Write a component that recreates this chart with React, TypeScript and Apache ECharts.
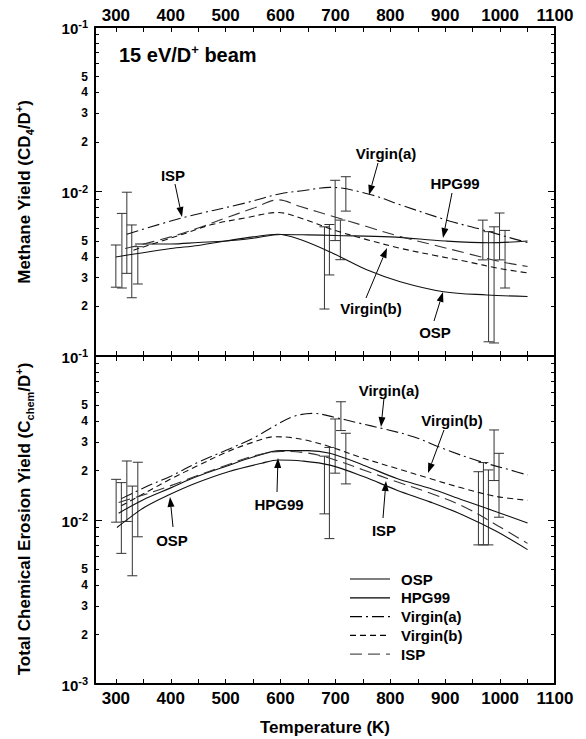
import React, { useEffect, useRef } from 'react';
import * as echarts from 'echarts';

const FONT = "'Liberation Sans', Arial, Helvetica, sans-serif";

// Axis ticks / labels
const xTickValues = [300, 350, 400, 450, 500, 550, 600, 650, 700, 750, 800, 850, 900, 950, 1000, 1050, 1100];
const xLabelValues = [300, 400, 500, 600, 700, 800, 900, 1000, 1100];
const decadeBases = [0.001, 0.01];
const minorMantissas = [2, 3, 4, 5, 6, 7, 8, 9];
const minorLabelMantissas = [2, 3, 4, 5];

// ---- Top panel: methane yield (CD4/D+) ----
const topOspT = [300, 340, 400, 450, 500, 550, 595, 636, 696, 757, 818, 897, 976, 1050];
const topOsp = [0.0040, 0.0042, 0.0045, 0.0047, 0.0050, 0.0053, 0.0055, 0.0051, 0.0042, 0.00334, 0.00283, 0.00246, 0.00235, 0.0023];

const topHpgT = [335, 400, 450, 500, 550, 600, 650, 700, 800, 900, 980, 1050];
const topHpg = [0.0048, 0.0048, 0.0049, 0.0050, 0.0052, 0.00548, 0.00545, 0.0054, 0.0053, 0.0050, 0.00488, 0.0050];

const topVirginAT = [320, 420, 535, 600, 640, 690, 763, 818, 909, 964, 1030, 1050];
const topVirginA = [0.0055, 0.0069, 0.0085, 0.0097, 0.0101, 0.0106, 0.0096, 0.0083, 0.0066, 0.0059, 0.0051, 0.0049];

const topIspT = [317, 400, 450, 500, 550, 596, 636, 696, 757, 818, 879, 939, 1000, 1050];
const topIsp = [0.0045, 0.0053, 0.0060, 0.0069, 0.0079, 0.0089, 0.0081, 0.00705, 0.00612, 0.00532, 0.00473, 0.00421, 0.00375, 0.0035];

const topVirginBT = [332, 429, 475, 535, 596, 636, 696, 757, 818, 879, 939, 1000, 1050];
const topVirginB = [0.0044, 0.0056, 0.0063, 0.0069, 0.00745, 0.0069, 0.00585, 0.0051, 0.00452, 0.0041, 0.00375, 0.0034, 0.0032];

const errTopT = [300, 311, 320, 329, 340, 680, 689, 699.5, 709, 719, 968.5, 979, 989, 999, 1009];
const errTopLo = [0.00262, 0.00259, 0.00318, 0.00226, 0.00274, 0.00193, 0.00311, 0.00503, 0.00385, 0.0076, 0.00384, 0.00122, 0.0012, 0.00384, 0.00259];
const errTopHi = [0.00473, 0.00736, 0.0099, 0.00626, 0.00462, 0.0061, 0.0063, 0.0117, 0.0067, 0.0123, 0.0067, 0.0057, 0.0061, 0.0074, 0.0058];

// ---- Bottom panel: total chemical erosion yield ----
const botOspT = [302, 323, 353, 396, 444, 505, 566, 596, 639, 690, 751, 812, 872, 933, 994, 1050];
const botOsp = [0.0090, 0.0102, 0.0120, 0.0142, 0.0167, 0.0197, 0.0222, 0.0232, 0.0229, 0.0216, 0.0184, 0.0152, 0.0129, 0.0107, 0.0085, 0.0066];

const botHpgT = [305, 350, 400, 444, 500, 550, 600, 650, 690, 751, 812, 872, 933, 994, 1050];
const botHpg = [0.0110, 0.0133, 0.0157, 0.0182, 0.0212, 0.0242, 0.0265, 0.0265, 0.0255, 0.0216, 0.0179, 0.0156, 0.0132, 0.0112, 0.0096];

const botIspT = [305, 350, 400, 444, 500, 550, 600, 650, 690, 751, 812, 872, 933, 994, 1050];
const botIsp = [0.0128, 0.0142, 0.0162, 0.0184, 0.0215, 0.0245, 0.0262, 0.0256, 0.0238, 0.0202, 0.0171, 0.0146, 0.0121, 0.0093, 0.0072];

const botVirginAT = [310, 356, 400, 450, 502, 550, 587, 623, 660, 696, 740, 790, 842, 903, 964, 1018, 1050];
const botVirginA = [0.0135, 0.0160, 0.0185, 0.0225, 0.0267, 0.0315, 0.0371, 0.0427, 0.0447, 0.0425, 0.0392, 0.0358, 0.0322, 0.0267, 0.0227, 0.0202, 0.0188];

const botVirginBT = [310, 356, 400, 450, 500, 550, 590, 620, 650, 690, 751, 812, 872, 933, 994, 1050];
const botVirginB = [0.0122, 0.0148, 0.0178, 0.0215, 0.0258, 0.0298, 0.0322, 0.0318, 0.0305, 0.0280, 0.0238, 0.0206, 0.0179, 0.0156, 0.0139, 0.0132];

const errBotT = [300.5, 310, 320, 330, 340, 680, 689, 699.5, 710, 719, 960.5, 969.6, 978.7, 989, 998];
const errBotLo = [0.0097, 0.00626, 0.0098, 0.00457, 0.0079, 0.0109, 0.0077, 0.0193, 0.0351, 0.0166, 0.00705, 0.00705, 0.00705, 0.0174, 0.0104];
const errBotHi = [0.0177, 0.0169, 0.0229, 0.0161, 0.0225, 0.0245, 0.0277, 0.0413, 0.0526, 0.0338, 0.0197, 0.0224, 0.0202, 0.0354, 0.0255];

const legendNames = ['OSP', 'HPG99', 'Virgin(a)', 'Virgin(b)', 'ISP'];

const DASH_A = [12, 4, 2, 4];
const DASH_B = [6, 4];
const DASH_ISP = [12, 6];

const lg = (v: number) => Math.log10(v);

const minorTickLogs: number[] = [];
const minorLabelLogs: number[] = [];
decadeBases.forEach((b) => {
  minorMantissas.forEach((m) => minorTickLogs.push(lg(b * m)));
  minorLabelMantissas.forEach((m) => minorLabelLogs.push(lg(b * m)));
});

function lineSeries(name: string, T: number[], V: number[], xi: number, yi: number, dash: any, color = '#111') {
  return {
    type: 'line',
    name,
    xAxisIndex: xi,
    yAxisIndex: yi,
    data: T.map((t, i) => [t, lg(V[i])]),
    smooth: 0.35,
    showSymbol: false,
    symbol: 'none',
    lineStyle: { color, width: 1.1, type: dash },
    silent: true,
  };
}

function errSeries(T: number[], lo: number[], hi: number[], xi: number, yi: number) {
  return {
    type: 'custom',
    xAxisIndex: xi,
    yAxisIndex: yi,
    data: T.map((t, i) => [t, lg(lo[i]), lg(hi[i])]),
    encode: { x: 0, y: [1, 2] },
    silent: true,
    renderItem: (_p: any, api: any) => {
      const a = api.coord([api.value(0), api.value(1)]);
      const b = api.coord([api.value(0), api.value(2)]);
      const w = 5;
      const st = { stroke: '#333', lineWidth: 1 };
      return {
        type: 'group',
        children: [
          { type: 'line', shape: { x1: a[0], y1: a[1], x2: b[0], y2: b[1] }, style: st },
          { type: 'line', shape: { x1: a[0] - w, y1: a[1], x2: a[0] + w, y2: a[1] }, style: st },
          { type: 'line', shape: { x1: b[0] - w, y1: b[1], x2: b[0] + w, y2: b[1] }, style: st },
        ],
      };
    },
  };
}

function xAxis(grid: number, pos: string, showLabel: boolean) {
  return {
    type: 'value',
    gridIndex: grid,
    position: pos,
    min: 262,
    max: 1100,
    axisLine: { show: true, onZero: false, lineStyle: { color: '#000', width: 2 } },
    axisTick: { show: true, inside: true, length: 5, customValues: xTickValues, lineStyle: { color: '#000', width: 1 } },
    axisLabel: showLabel
      ? {
          show: true,
          customValues: xLabelValues,
          margin: pos === 'top' ? 3 : 6,
          color: '#000',
          fontSize: 17,
          fontWeight: 'bold',
          fontFamily: FONT,
          formatter: (v: number) => String(Math.round(v)),
        }
      : { show: false },
    splitLine: { show: false },
  };
}

function yMain(grid: number, pos: string, showLabel: boolean, hideBottom: boolean) {
  return {
    type: 'value',
    gridIndex: grid,
    position: pos,
    min: -3,
    max: -1,
    interval: 1,
    axisLine: { show: true, onZero: false, lineStyle: { color: '#000', width: 2 } },
    axisTick: { show: true, inside: true, length: 7, lineStyle: { color: '#000', width: 1 } },
    axisLabel: showLabel
      ? {
          show: true,
          margin: 7,
          showMinLabel: true,
          showMaxLabel: true,
          formatter: (v: number) => {
            const e = Math.round(v);
            if (hideBottom && e === -3) return '';
            return `{b|10}{s|${e}}`;
          },
          rich: {
            b: { fontSize: 15, fontWeight: 'bold', fontFamily: FONT, color: '#000', lineHeight: 17, verticalAlign: 'bottom' },
            s: { fontSize: 11, fontWeight: 'bold', fontFamily: FONT, color: '#000', lineHeight: 12, verticalAlign: 'top' },
          },
        }
      : { show: false },
    splitLine: { show: false },
  };
}

function yMinor(grid: number, pos: string, showLabel: boolean) {
  return {
    type: 'value',
    gridIndex: grid,
    position: pos,
    min: -3,
    max: -1,
    axisLine: { show: false, onZero: false },
    axisTick: { show: true, inside: true, length: 4, customValues: minorTickLogs, lineStyle: { color: '#000', width: 1 } },
    axisLabel: showLabel
      ? {
          show: true,
          margin: 7,
          customValues: minorLabelLogs,
          color: '#000',
          fontSize: 12,
          fontWeight: 'bold',
          fontFamily: FONT,
          formatter: (v: number) => String(Math.round(Math.pow(10, v - Math.floor(v + 1e-9)))),
        }
      : { show: false },
    splitLine: { show: false },
  };
}

function arrow(x1: number, y1: number, x2: number, y2: number) {
  const dx = x2 - x1;
  const dy = y2 - y1;
  const len = Math.sqrt(dx * dx + dy * dy);
  const ux = dx / len;
  const uy = dy / len;
  const hl = 10;
  const hw = 3.5;
  const bx = x2 - ux * hl;
  const by = y2 - uy * hl;
  return [
    { type: 'line', shape: { x1, y1, x2: bx, y2: by }, style: { stroke: '#000', lineWidth: 1 }, silent: true },
    {
      type: 'polygon',
      shape: { points: [[x2, y2], [bx - uy * hw, by + ux * hw], [bx + uy * hw, by - ux * hw]] },
      style: { fill: '#000' },
      silent: true,
    },
  ];
}

function label(text: string, x: number, y: number, size = 15) {
  return {
    type: 'text',
    x,
    y,
    silent: true,
    style: { text, fill: '#000', font: `bold ${size}px ${FONT}`, align: 'center', verticalAlign: 'middle' },
  };
}

export default function App() {
  const ref = useRef<HTMLDivElement>(null);
  useEffect(() => {
    if (!ref.current) return;
    const chart = echarts.init(ref.current, undefined, { renderer: 'svg' });

    const annotations: any[] = [];
    const ann = (t: string, lx: number, ly: number, ax1: number, ay1: number, ax2: number, ay2: number) => {
      annotations.push(label(t, lx, ly));
      annotations.push(...arrow(ax1, ay1, ax2, ay2));
    };
    // top panel
    ann('ISP', 173, 175, 175, 184, 182, 217);
    ann('Virgin(a)', 386, 153, 378, 163, 369, 195);
    ann('HPG99', 455, 183, 452, 193, 443, 238);
    ann('Virgin(b)', 371, 308, 366, 298, 387, 248);
    ann('OSP', 435, 332, 434, 321, 443, 292);
    // bottom panel
    ann('Virgin(a)', 389, 390, 384, 398, 381, 427);
    ann('Virgin(b)', 452, 420, 444, 430, 428, 473);
    ann('HPG99', 279, 504, 277, 492, 278, 458);
    ann('ISP', 384, 530, 383, 518, 386, 481);
    ann('OSP', 172, 540, 173, 527, 170, 497);

    const legendDash: any[] = ['solid', 'solid', DASH_A, DASH_B, DASH_ISP];
    const legendColor = ['#000', '#000', '#000', '#000', '#555'];
    const legendEls: any[] = [];
    legendNames.forEach((n, i) => {
      const y = 579 + i * 18.8;
      legendEls.push({
        type: 'line',
        silent: true,
        shape: { x1: 350, y1: y, x2: 390, y2: y },
        style: { stroke: legendColor[i], lineWidth: 1.2, lineDash: legendDash[i] === 'solid' ? null : legendDash[i] },
      });
      legendEls.push({
        type: 'text',
        x: 401,
        y,
        silent: true,
        style: { text: n, fill: '#000', font: `bold 15px ${FONT}`, align: 'left', verticalAlign: 'middle' },
      });
    });

    const mkRich = (main: number, small: number) => ({
      n: { fontSize: main, fontWeight: 'bold', fontFamily: FONT, fill: '#000', color: '#000', lineHeight: main + 5, verticalAlign: 'middle' },
      sub: { fontSize: small, fontWeight: 'bold', fontFamily: FONT, fill: '#000', color: '#000', lineHeight: small + 1, verticalAlign: 'bottom' },
      sup: { fontSize: small, fontWeight: 'bold', fontFamily: FONT, fill: '#000', color: '#000', lineHeight: small + 1, verticalAlign: 'top' },
    });
    const titleRich = mkRich(17, 11);

    const option: any = {
      animation: false,
      backgroundColor: '#fff',
      grid: [
        { left: 95, right: 31, top: 27, height: 329 },
        { left: 95, right: 31, top: 356, height: 328 },
      ],
      xAxis: [xAxis(0, 'top', true), xAxis(0, 'bottom', false), xAxis(1, 'top', false), xAxis(1, 'bottom', true)],
      yAxis: [
        yMain(0, 'left', true, true),
        yMinor(0, 'left', true),
        yMain(0, 'right', false, true),
        yMinor(0, 'right', false),
        yMain(1, 'left', true, false),
        yMinor(1, 'left', true),
        yMain(1, 'right', false, false),
        yMinor(1, 'right', false),
      ],
      series: [
        lineSeries('OSP', topOspT, topOsp, 0, 0, 'solid'),
        lineSeries('HPG99', topHpgT, topHpg, 0, 0, 'solid'),
        lineSeries('Virgin(a)', topVirginAT, topVirginA, 0, 0, DASH_A),
        lineSeries('ISP', topIspT, topIsp, 0, 0, DASH_ISP, '#333'),
        lineSeries('Virgin(b)', topVirginBT, topVirginB, 0, 0, DASH_B),
        errSeries(errTopT, errTopLo, errTopHi, 0, 0),
        lineSeries('OSP', botOspT, botOsp, 3, 4, 'solid'),
        lineSeries('HPG99', botHpgT, botHpg, 3, 4, 'solid'),
        lineSeries('Virgin(a)', botVirginAT, botVirginA, 3, 4, DASH_A),
        lineSeries('Virgin(b)', botVirginBT, botVirginB, 3, 4, DASH_B),
        lineSeries('ISP', botIspT, botIsp, 3, 4, DASH_ISP, '#333'),
        errSeries(errBotT, errBotLo, errBotHi, 3, 4),
      ],
      graphic: [
        {
          type: 'text',
          x: 119,
          y: 55,
          silent: true,
          style: {
            text: '{n|15 eV/D}{sup|+}{n| beam}',
            align: 'left',
            verticalAlign: 'middle',
            rich: mkRich(20, 13),
          },
        },
        {
          type: 'text',
          x: 24,
          y: 192,
          rotation: Math.PI / 2,
          silent: true,
          style: {
            text: '{n|Methane Yield (CD}{sub|4}{n|/D}{sup|+}{n|)}',
            align: 'center',
            verticalAlign: 'middle',
            rich: titleRich,
          },
        },
        {
          type: 'text',
          x: 24,
          y: 519,
          rotation: Math.PI / 2,
          silent: true,
          style: {
            text: '{n|Total Chemical Erosion Yield (C}{sub|chem}{n|/D}{sup|+}{n|)}',
            align: 'center',
            verticalAlign: 'middle',
            rich: titleRich,
          },
        },
        {
          type: 'text',
          x: 325,
          y: 727,
          silent: true,
          style: { text: 'Temperature (K)', fill: '#000', font: `bold 17px ${FONT}`, align: 'center', verticalAlign: 'middle' },
        },
        ...annotations,
        ...legendEls,
      ],
    };
    chart.setOption(option);
    return () => chart.dispose();
  }, []);

  return (
    <div
      ref={ref}
      style={{ position: 'fixed', left: 0, top: 0, width: 586, height: 739, background: '#fff' }}
    />
  );
}
